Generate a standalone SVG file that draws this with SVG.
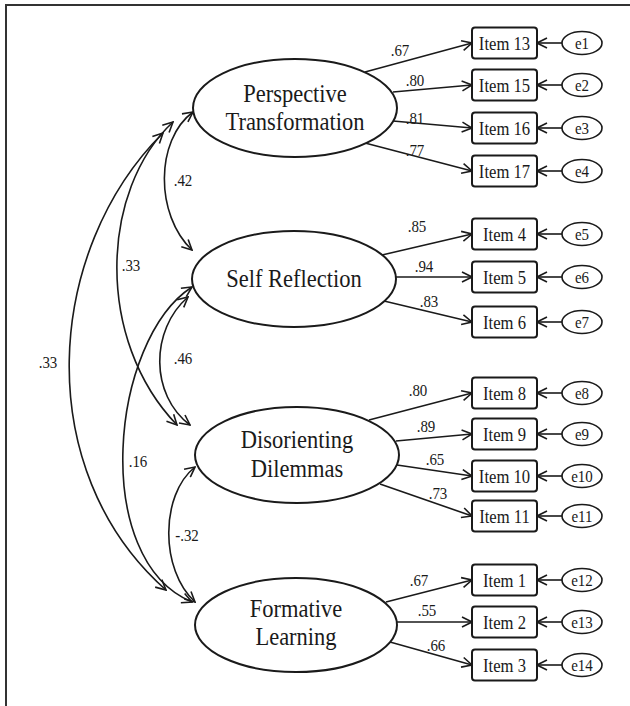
<svg xmlns="http://www.w3.org/2000/svg" width="630" height="706" viewBox="0 0 630 706">
<style>
.frame{fill:none;stroke:#333;stroke-width:2}
.lat{fill:#fff;stroke:#1a1a1a;stroke-width:2}
.box{fill:#fff;stroke:#1a1a1a;stroke-width:2}
.err{fill:#fff;stroke:#1a1a1a;stroke-width:1.6}
.c{fill:none;stroke:#1a1a1a;stroke-width:1.6}
text{font-family:"Liberation Serif","Times New Roman","DejaVu Serif",serif;fill:#1a1a1a;text-anchor:middle}
.lt{font-size:25px}
.it{font-size:18.5px}
.et{font-size:17px}
.nb{font-size:17px}
</style>
<defs>
<marker id="ah" viewBox="0 0 12 12" refX="11" refY="6" markerWidth="12" markerHeight="12" markerUnits="userSpaceOnUse" orient="auto-start-reverse">
<path d="M1,1 L11,6 L1,11" fill="none" stroke="#1a1a1a" stroke-width="1.6"/>
</marker>
</defs>
<path class="frame" d="M6,706 L6,5 L630,5"/>

<g id="connectors">
<path class="c" d="M365,72 L472,43" marker-end="url(#ah)"/>
<path class="c" d="M393,92 L472,85" marker-end="url(#ah)"/>
<path class="c" d="M393,121 L472,128" marker-end="url(#ah)"/>
<path class="c" d="M365,143 L472,171" marker-end="url(#ah)"/>
<path class="c" d="M382,255 L472,234" marker-end="url(#ah)"/>
<path class="c" d="M396,277 L472,277" marker-end="url(#ah)"/>
<path class="c" d="M384,301 L472,322" marker-end="url(#ah)"/>
<path class="c" d="M369,420 L472,393" marker-end="url(#ah)"/>
<path class="c" d="M396,441 L472,434" marker-end="url(#ah)"/>
<path class="c" d="M397,465 L472,476" marker-end="url(#ah)"/>
<path class="c" d="M380,484 L472,516" marker-end="url(#ah)"/>
<path class="c" d="M386,602 L472,580" marker-end="url(#ah)"/>
<path class="c" d="M397,622 L472,622" marker-end="url(#ah)"/>
<path class="c" d="M390,642 L472,665" marker-end="url(#ah)"/>
<path class="c" d="M562,43 L537,43" marker-end="url(#ah)"/>
<path class="c" d="M562,85 L537,85" marker-end="url(#ah)"/>
<path class="c" d="M562,128 L537,128" marker-end="url(#ah)"/>
<path class="c" d="M562,171 L537,171" marker-end="url(#ah)"/>
<path class="c" d="M562,234 L537,234" marker-end="url(#ah)"/>
<path class="c" d="M562,277 L537,277" marker-end="url(#ah)"/>
<path class="c" d="M562,322 L537,322" marker-end="url(#ah)"/>
<path class="c" d="M562,393 L537,393" marker-end="url(#ah)"/>
<path class="c" d="M562,434 L537,434" marker-end="url(#ah)"/>
<path class="c" d="M562,476 L537,476" marker-end="url(#ah)"/>
<path class="c" d="M562,516 L537,516" marker-end="url(#ah)"/>
<path class="c" d="M562,580 L537,580" marker-end="url(#ah)"/>
<path class="c" d="M562,622 L537,622" marker-end="url(#ah)"/>
<path class="c" d="M562,665 L537,665" marker-end="url(#ah)"/>
<path class="c" d="M193,112 C155,140 155,215 192,250" marker-start="url(#ah)" marker-end="url(#ah)"/>
<path class="c" d="M173,122 C100,190 95,340 177,425" marker-start="url(#ah)" marker-end="url(#ah)"/>
<path class="c" d="M163,133 C45,250 30,470 166,590" marker-start="url(#ah)" marker-end="url(#ah)"/>
<path class="c" d="M188,297 C150,330 150,395 190,425" marker-start="url(#ah)" marker-end="url(#ah)"/>
<path class="c" d="M192,287 C110,340 90,560 192,602" marker-start="url(#ah)" marker-end="url(#ah)"/>
<path class="c" d="M195,467 C160,495 160,570 195,602" marker-start="url(#ah)" marker-end="url(#ah)"/>
</g>

<g id="labels">
<text class="nb" transform="translate(400 56) scale(0.88 1)">.67</text>
<text class="nb" transform="translate(415 86) scale(0.88 1)">.80</text>
<text class="nb" transform="translate(415 124) scale(0.88 1)">.81</text>
<text class="nb" transform="translate(415 156) scale(0.88 1)">.77</text>
<text class="nb" transform="translate(417 232) scale(0.88 1)">.85</text>
<text class="nb" transform="translate(424 272) scale(0.88 1)">.94</text>
<text class="nb" transform="translate(429 307) scale(0.88 1)">.83</text>
<text class="nb" transform="translate(418 396) scale(0.88 1)">.80</text>
<text class="nb" transform="translate(426 432) scale(0.88 1)">.89</text>
<text class="nb" transform="translate(435 465) scale(0.88 1)">.65</text>
<text class="nb" transform="translate(438 499) scale(0.88 1)">.73</text>
<text class="nb" transform="translate(419 586) scale(0.88 1)">.67</text>
<text class="nb" transform="translate(427 616) scale(0.88 1)">.55</text>
<text class="nb" transform="translate(436 651) scale(0.88 1)">.66</text>
<text class="nb" transform="translate(183 186) scale(0.88 1)">.42</text>
<text class="nb" transform="translate(131 271) scale(0.88 1)">.33</text>
<text class="nb" transform="translate(48 368) scale(0.88 1)">.33</text>
<text class="nb" transform="translate(183 364) scale(0.88 1)">.46</text>
<text class="nb" transform="translate(138 467) scale(0.88 1)">.16</text>
<text class="nb" transform="translate(187 541) scale(0.88 1)">-.32</text>
</g>

<g id="PT">
<ellipse class="lat" cx="295" cy="108" rx="102" ry="49"/>
<text class="lt" transform="translate(295 102) scale(0.9 1)">Perspective</text>
<text class="lt" transform="translate(295 130) scale(0.9 1)">Transformation</text>
</g>
<g id="SR">
<ellipse class="lat" cx="294" cy="279" rx="102" ry="48"/>
<text class="lt" transform="translate(294 287) scale(0.9 1)">Self Reflection</text>
</g>
<g id="DD">
<ellipse class="lat" cx="297" cy="455" rx="102" ry="48"/>
<text class="lt" transform="translate(297 448) scale(0.9 1)">Disorienting</text>
<text class="lt" transform="translate(297 477) scale(0.9 1)">Dilemmas</text>
</g>
<g id="FL">
<ellipse class="lat" cx="296" cy="625" rx="101" ry="47"/>
<text class="lt" transform="translate(296 617) scale(0.9 1)">Formative</text>
<text class="lt" transform="translate(296 645) scale(0.9 1)">Learning</text>
</g>

<g id="item13"><rect class="box" x="472" y="27.5" width="65" height="31" rx="3"/><text class="it" transform="translate(504.5 49.5) scale(0.9 1)">Item 13</text></g>
<g id="item15"><rect class="box" x="472" y="69.5" width="65" height="31" rx="3"/><text class="it" transform="translate(504.5 91.5) scale(0.9 1)">Item 15</text></g>
<g id="item16"><rect class="box" x="472" y="112.5" width="65" height="31" rx="3"/><text class="it" transform="translate(504.5 134.5) scale(0.9 1)">Item 16</text></g>
<g id="item17"><rect class="box" x="472" y="155.5" width="65" height="31" rx="3"/><text class="it" transform="translate(504.5 177.5) scale(0.9 1)">Item 17</text></g>
<g id="item4"><rect class="box" x="472" y="218.5" width="65" height="31" rx="3"/><text class="it" transform="translate(504.5 240.5) scale(0.9 1)">Item 4</text></g>
<g id="item5"><rect class="box" x="472" y="261.5" width="65" height="31" rx="3"/><text class="it" transform="translate(504.5 283.5) scale(0.9 1)">Item 5</text></g>
<g id="item6"><rect class="box" x="472" y="306.5" width="65" height="31" rx="3"/><text class="it" transform="translate(504.5 328.5) scale(0.9 1)">Item 6</text></g>
<g id="item8"><rect class="box" x="472" y="377.5" width="65" height="31" rx="3"/><text class="it" transform="translate(504.5 399.5) scale(0.9 1)">Item 8</text></g>
<g id="item9"><rect class="box" x="472" y="418.5" width="65" height="31" rx="3"/><text class="it" transform="translate(504.5 440.5) scale(0.9 1)">Item 9</text></g>
<g id="item10"><rect class="box" x="472" y="460.5" width="65" height="31" rx="3"/><text class="it" transform="translate(504.5 482.5) scale(0.9 1)">Item 10</text></g>
<g id="item11"><rect class="box" x="472" y="500.5" width="65" height="31" rx="3"/><text class="it" transform="translate(504.5 522.5) scale(0.9 1)">Item 11</text></g>
<g id="item1"><rect class="box" x="472" y="564.5" width="65" height="31" rx="3"/><text class="it" transform="translate(504.5 586.5) scale(0.9 1)">Item 1</text></g>
<g id="item2"><rect class="box" x="472" y="606.5" width="65" height="31" rx="3"/><text class="it" transform="translate(504.5 628.5) scale(0.9 1)">Item 2</text></g>
<g id="item3"><rect class="box" x="472" y="649.5" width="65" height="31" rx="3"/><text class="it" transform="translate(504.5 671.5) scale(0.9 1)">Item 3</text></g>

<g id="e1"><ellipse class="err" cx="582" cy="43" rx="20" ry="11.5"/><text class="et" transform="translate(582 49) scale(0.88 1)">e1</text></g>
<g id="e2"><ellipse class="err" cx="582" cy="85" rx="20" ry="11.5"/><text class="et" transform="translate(582 91) scale(0.88 1)">e2</text></g>
<g id="e3"><ellipse class="err" cx="582" cy="128" rx="20" ry="11.5"/><text class="et" transform="translate(582 134) scale(0.88 1)">e3</text></g>
<g id="e4"><ellipse class="err" cx="582" cy="171" rx="20" ry="11.5"/><text class="et" transform="translate(582 177) scale(0.88 1)">e4</text></g>
<g id="e5"><ellipse class="err" cx="582" cy="234" rx="20" ry="11.5"/><text class="et" transform="translate(582 240) scale(0.88 1)">e5</text></g>
<g id="e6"><ellipse class="err" cx="582" cy="277" rx="20" ry="11.5"/><text class="et" transform="translate(582 283) scale(0.88 1)">e6</text></g>
<g id="e7"><ellipse class="err" cx="582" cy="322" rx="20" ry="11.5"/><text class="et" transform="translate(582 328) scale(0.88 1)">e7</text></g>
<g id="e8"><ellipse class="err" cx="582" cy="393" rx="20" ry="11.5"/><text class="et" transform="translate(582 399) scale(0.88 1)">e8</text></g>
<g id="e9"><ellipse class="err" cx="582" cy="434" rx="20" ry="11.5"/><text class="et" transform="translate(582 440) scale(0.88 1)">e9</text></g>
<g id="e10"><ellipse class="err" cx="582" cy="476" rx="20" ry="11.5"/><text class="et" transform="translate(582 482) scale(0.88 1)">e10</text></g>
<g id="e11"><ellipse class="err" cx="582" cy="516" rx="20" ry="11.5"/><text class="et" transform="translate(582 522) scale(0.88 1)">e11</text></g>
<g id="e12"><ellipse class="err" cx="582" cy="580" rx="20" ry="11.5"/><text class="et" transform="translate(582 586) scale(0.88 1)">e12</text></g>
<g id="e13"><ellipse class="err" cx="582" cy="622" rx="20" ry="11.5"/><text class="et" transform="translate(582 628) scale(0.88 1)">e13</text></g>
<g id="e14"><ellipse class="err" cx="582" cy="665" rx="20" ry="11.5"/><text class="et" transform="translate(582 671) scale(0.88 1)">e14</text></g>
</svg>
